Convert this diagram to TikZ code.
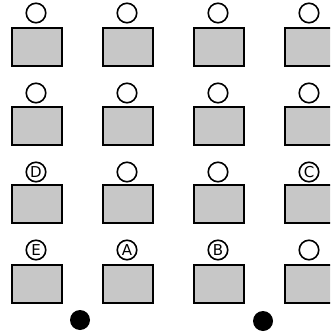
\documentclass[tikz,border=0pt]{standalone}
\usepackage{fontspec}
\setsansfont{DejaVu Sans}
\begin{document}
\begin{tikzpicture}[x=1pt,y=-1pt,
  desk/.style={draw=black, line width=2pt, fill=black!22, minimum width=50pt, minimum height=38pt, inner sep=0pt, anchor=north west},
  seat/.style={draw=black, line width=1.6pt, circle, minimum size=19.5pt, inner sep=0pt, font=\sffamily\fontsize{15}{15}\selectfont},
  dot/.style={fill=black, circle, minimum size=20pt, inner sep=0pt}]
\useasboundingbox (0,0) rectangle (330,336);
\begin{scope}
\clip (0,0) rectangle (330,336);
\foreach \c/\x in {1/10,2/101,3/192,4/283}{
  \foreach \r/\y in {1/26,2/105,3/183,4/263}{
    \node[desk] (d\r\c) at (\x+1,\y+1) {};
  }
}
\foreach \c/\x in {1/36,2/127,3/218,4/309}{
  \foreach \r/\y in {1/13,2/93,3/172,4/250}{
    \coordinate (p\r\c) at (\x,\y);
  }
}
\end{scope}
\node[seat] (s11) at (p11) {};
\node[seat] (s12) at (p12) {};
\node[seat] (s13) at (p13) {};
\node[seat] (s14) at (p14) {};
\node[seat] (s21) at (p21) {};
\node[seat] (s22) at (p22) {};
\node[seat] (s23) at (p23) {};
\node[seat] (s24) at (p24) {};
\node[seat] (s31) at (p31) {D};
\node[seat] (s32) at (p32) {};
\node[seat] (s33) at (p33) {};
\node[seat] (s34) at (p34) {C};
\node[seat] (s41) at (p41) {E};
\node[seat] (s42) at (p42) {A};
\node[seat] (s43) at (p43) {B};
\node[seat] (s44) at (p44) {};
\node[dot] (b1) at (80,320) {};
\node[dot] (b2) at (263,321) {};
\end{tikzpicture}
\end{document}
